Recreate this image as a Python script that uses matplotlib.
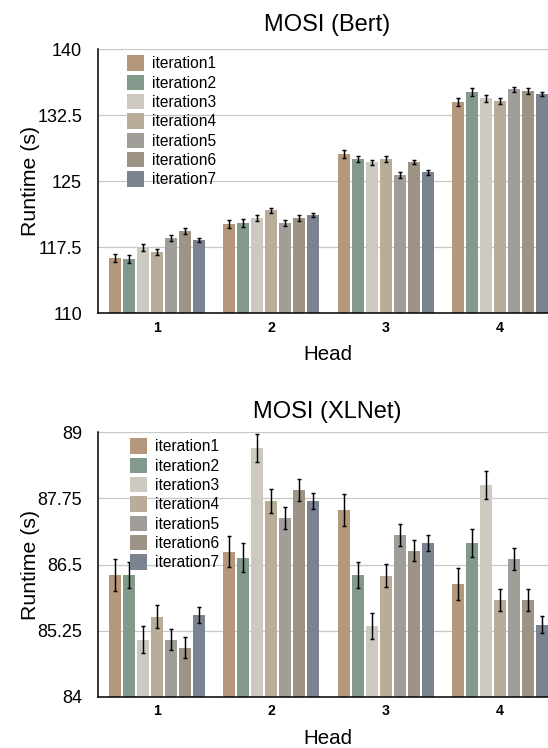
import matplotlib
matplotlib.use("Agg")
import matplotlib.pyplot as plt
import numpy as np

plt.rcParams["font.family"] = ["Liberation Sans", "DejaVu Sans"]

HEADS = ["1", "2", "3", "4"]
SERIES = ["iteration1", "iteration2", "iteration3", "iteration4",
          "iteration5", "iteration6", "iteration7"]
COLORS = ["#b5977b", "#83998b", "#cdc9c1", "#b9ac99", "#a19e99", "#9d9486", "#7c8390"]

# MOSI (Bert) runtime, rows = iteration, cols = head 1..4
BERT = [
    [116.25, 120.15, 128.07, 133.98],
    [116.17, 120.27, 127.54, 135.11],
    [117.50, 120.83, 127.16, 134.43],
    [116.97, 121.70, 127.54, 134.13],
    [118.56, 120.27, 125.72, 135.45],
    [119.36, 120.83, 127.16, 135.27],
    [118.33, 121.14, 126.02, 134.92],
]
BERT_ERR = [
    [0.45, 0.45, 0.45, 0.45],
    [0.45, 0.45, 0.35, 0.45],
    [0.40, 0.35, 0.30, 0.40],
    [0.30, 0.30, 0.35, 0.35],
    [0.30, 0.30, 0.30, 0.30],
    [0.30, 0.30, 0.25, 0.30],
    [0.20, 0.25, 0.25, 0.20],
]

# MOSI (XLNet) runtime
XLNET = [
    [86.30, 86.74, 87.53, 86.13],
    [86.30, 86.63, 86.30, 86.91],
    [85.08, 88.70, 85.34, 88.00],
    [85.51, 87.70, 86.29, 85.83],
    [85.08, 87.38, 87.06, 86.61],
    [84.93, 87.91, 86.76, 85.83],
    [85.55, 87.70, 86.91, 85.36],
]
XLNET_ERR = [
    [0.30, 0.29, 0.30, 0.30],
    [0.25, 0.27, 0.25, 0.26],
    [0.25, 0.26, 0.25, 0.26],
    [0.22, 0.22, 0.22, 0.21],
    [0.20, 0.20, 0.21, 0.21],
    [0.20, 0.20, 0.20, 0.20],
    [0.15, 0.15, 0.15, 0.16],
]

W, H = 548, 748
fig = plt.figure(figsize=(W / 100, H / 100), dpi=100)

STEP = 0.1223
BAR_W = 0.102


def panel(top_px, bottom_px, title, title_px, vals, errs, ylim, yticks, yticklabels, leg_px):
    left_px, right_px = 98, 557
    ax = fig.add_axes([left_px / W, 1 - bottom_px / H,
                       (right_px - left_px) / W, (bottom_px - top_px) / H])
    x = np.arange(len(HEADS))
    for j, name in enumerate(SERIES):
        ax.bar(x + (j - 3) * STEP, vals[j], width=BAR_W, color=COLORS[j], label=name,
               yerr=errs[j], error_kw=dict(ecolor="black", elinewidth=1.05,
                                           capsize=1.6, capthick=1.05))
    ax.set_ylim(*ylim)
    ax.set_xlim(-0.513, 3.496)
    ax.set_yticks(yticks)
    ax.set_yticklabels(yticklabels)
    ax.set_xticks(x)
    ax.set_xticklabels(HEADS, fontweight="bold")
    ax.tick_params(axis="y", length=0, pad=11.5, labelsize=13)
    ax.tick_params(axis="x", length=0, pad=5.5, labelsize=10.2)
    ax.set_axisbelow(True)
    ax.yaxis.grid(True, color="#c8c8c8", lw=0.9)
    for s in ("top", "right"):
        ax.spines[s].set_visible(False)
    for s in ("left", "bottom"):
        ax.spines[s].set_linewidth(1.1)
        ax.spines[s].set_color("black")
    ax.set_ylabel("Runtime (s)", fontsize=15.3)
    ax.yaxis.set_label_coords(-0.127, 0.5)
    ax.set_xlabel("Head", fontsize=14.8, va="baseline")
    ax.xaxis.set_label_coords(0.5, -46.8 / (bottom_px - top_px))
    fig.text(327.6 / W, 1 - title_px / H, title, ha="center", va="center", fontsize=17)
    ax.legend(loc="upper left", frameon=False, fontsize=11.2,
              bbox_to_anchor=((leg_px[0] - left_px) / (right_px - left_px),
                              (bottom_px - leg_px[1]) / (bottom_px - top_px)),
              borderaxespad=0, borderpad=0, handlelength=1.08, handleheight=1.15,
              handletextpad=0.55, labelspacing=0.215)
    return ax


panel(49.3, 313.3, "MOSI (Bert)", 24.5, BERT, BERT_ERR, (110, 140),
      [110, 117.5, 125, 132.5, 140], ["110", "117.5", "125", "132.5", "140"], (126.7, 55.3))
panel(432.3, 696.7, "MOSI (XLNet)", 412, XLNET, XLNET_ERR, (84, 89),
      [84, 85.25, 86.5, 87.75, 89], ["84", "85.25", "86.5", "87.75", "89"], (130, 438.3))

fig.savefig("out.png", dpi=100)
